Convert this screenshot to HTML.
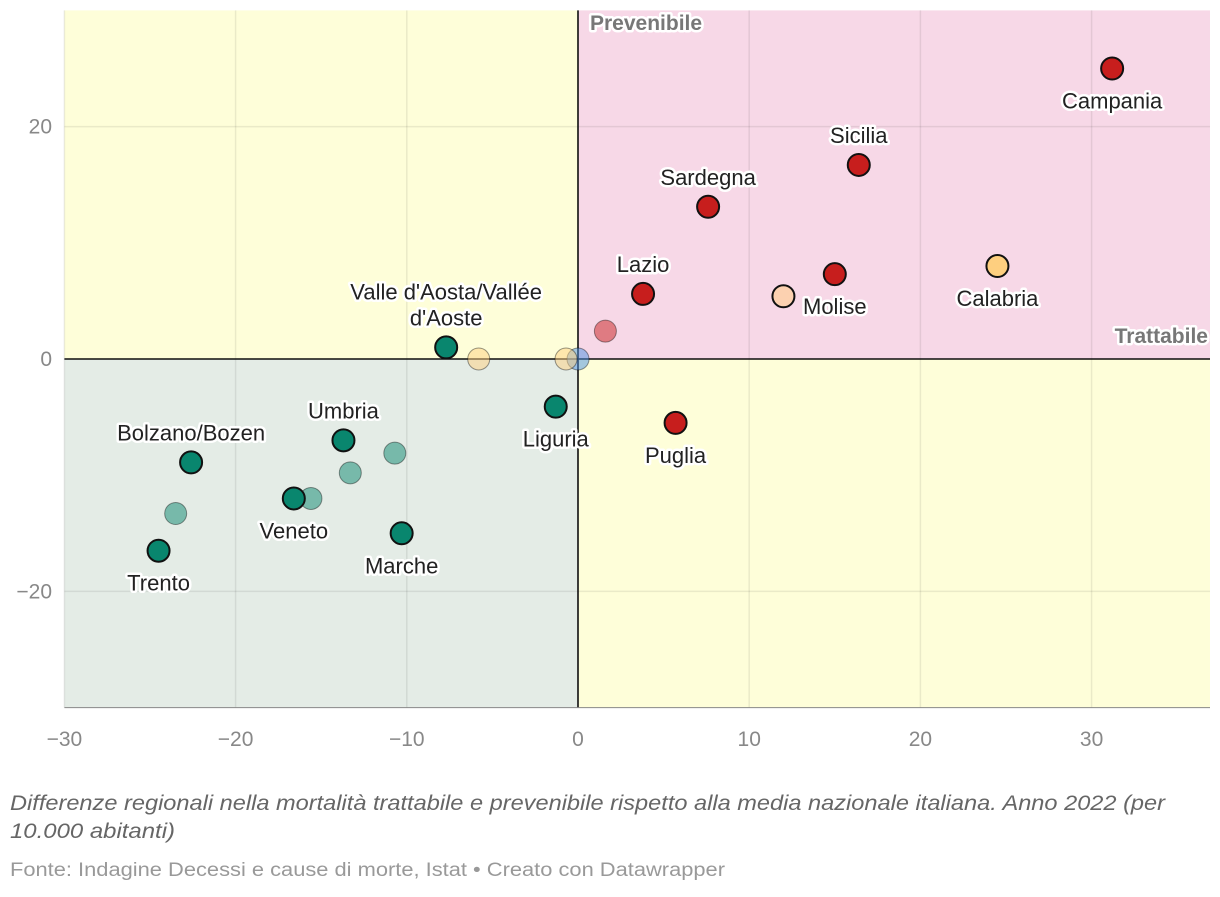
<!DOCTYPE html>
<html><head><meta charset="utf-8"><style>
body{margin:0;background:#fff;font-family:"Liberation Sans",sans-serif}
svg text{font-family:"Liberation Sans",sans-serif}
</style></head><body>
<svg id="c" width="1220" height="892"></svg>
<script>
const names=["Campania","Sicilia","Sardegna","Lazio","Molise","Calabria","p1","p2","Puglia","Italia","p3","p4","Valle d'Aosta/Vallée|d'Aoste","Liguria","Umbria","p5","p6","Bolzano/Bozen","p7","Veneto","Marche","p8","Trento"];
const xVals=[31.2,16.4,7.6,3.8,15.0,24.5,12.0,1.6,5.7,0,-0.7,-5.8,-7.7,-1.3,-13.7,-10.7,-13.3,-22.6,-15.6,-16.6,-10.3,-23.5,-24.5];
const yVals=[25.0,16.7,13.1,5.6,7.3,8.0,5.4,2.4,-5.5,0,0,0,1.0,-4.1,-7.0,-8.1,-9.8,-8.9,-12.0,-12.0,-15.0,-13.3,-16.5];
const colors=["#c71e1d","#c71e1d","#c71e1d","#c71e1d","#c71e1d","#fecf7f","#fcd1b0","#c71e1d","#c71e1d","#4a90e2","#fecf7f","#fecf7f","#09866e","#09866e","#09866e","#09866e","#09866e","#09866e","#09866e","#09866e","#09866e","#09866e","#09866e"];
const faded=[0,0,0,0,0,0,0,1,0,1,1,1,0,0,0,1,1,0,1,0,0,1,0];
const labelPos=["below","above","above","above","below","below","","","below","","","","above","below","above","","","above","","below","below","","below"];
const xTicks=[-30,-20,-10,0,10,20,30];
const yTicks=[-20,0,20];
const X=v=>578+v*17.12, Y=v=>359-v*11.62;
const svg=document.getElementById('c');const NS="http://www.w3.org/2000/svg";
function el(t,a,p){const e=document.createElementNS(NS,t);for(const k in a)e.setAttribute(k,a[k]);(p||svg).appendChild(e);return e;}
const x0=X(-30),x1=1210,y0=Y(30),y1=Y(-30);
let r=el('rect',{x:x0,y:y0,width:X(0)-x0,height:Y(0)-y0,fill:'#fefed9'});
r=el('rect',{x:X(0),y:y0,width:x1-X(0),height:Y(0)-y0,fill:'#f7d8e7'});
r=el('rect',{x:x0,y:Y(0),width:X(0)-x0,height:y1-Y(0),fill:'#e4ece6'});
r=el('rect',{x:X(0),y:Y(0),width:x1-X(0),height:y1-Y(0),fill:'#fefed9'});
xTicks.forEach(t=>{let l=el('line',{x1:X(t),x2:X(t),y1:y0,y2:y1,stroke:'rgba(0,0,0,0.08)','stroke-width':1.5});
let tx=el('text',{x:X(t),y:746,'text-anchor':'middle','font-size':21,fill:'#888'});tx.textContent=(t<0?'\u2212'+(-t):t);});
yTicks.forEach(t=>{let l=el('line',{x1:x0,x2:x1,y1:Y(t),y2:Y(t),stroke:'rgba(0,0,0,0.08)','stroke-width':1.5});
let tx=el('text',{x:52,y:Y(t)+7,'text-anchor':'end','font-size':21,fill:'#888'});tx.textContent=(t<0?'\u2212'+(-t):t);});
let a=el('line',{x1:X(0),x2:X(0),y1:y0,y2:y1,stroke:'#111','stroke-width':1.6});
a=el('line',{x1:x0,x2:x1,y1:Y(0),y2:Y(0),stroke:'#111','stroke-width':1.6});
a=el('line',{x1:x0,x2:x1,y1:y1,y2:y1,stroke:'#888','stroke-width':1});
function halo(t,x,y,anchor,size,fill,weight,name){const s={x:x,y:y,'text-anchor':anchor,'font-size':size,fill:fill,'font-weight':weight||'normal',stroke:'#fff','stroke-width':5,'stroke-linejoin':'round','paint-order':'stroke'};let e=el('text',s);e.textContent=t;return e;}
halo('Prevenibile',590,30,'start',21,'#777','bold','y-axis-title');
halo('Trattabile',1208,343,'end',21,'#777','bold','x-axis-title');
names.forEach((n,i)=>{const cx=X(xVals[i]),cy=Y(yVals[i]);
let c=el('circle',{cx:cx,cy:cy,r:11,fill:colors[i],'fill-opacity':faded[i]?0.5:1,stroke:faded[i]?'rgba(0,0,0,0.4)':'#111','stroke-width':faded[i]?1:2});


if(labelPos[i]){const lines=n.split('|');const up=labelPos[i]=='above';
lines.forEach((ln,k)=>{const yy=up?cy-22-(lines.length-1-k)*26:cy+40+k*26;halo(ln,cx,yy,'middle',22,'#222','normal','point-label');});}});
let ft=el('text',{x:10,y:810,'font-size':21,fill:'#666','font-style':'italic',textLength:1155,lengthAdjust:'spacingAndGlyphs'});ft.textContent='Differenze regionali nella mortalità trattabile e prevenibile rispetto alla media nazionale italiana. Anno 2022 (per';
ft=el('text',{x:10,y:838,'font-size':21,fill:'#666','font-style':'italic',textLength:165,lengthAdjust:'spacingAndGlyphs'});ft.textContent='10.000 abitanti)';
ft=el('text',{x:10,y:876,'font-size':19,fill:'#999',textLength:715,lengthAdjust:'spacingAndGlyphs'});ft.textContent='Fonte: Indagine Decessi e cause di morte, Istat  • Creato con Datawrapper';
</script></body></html>
